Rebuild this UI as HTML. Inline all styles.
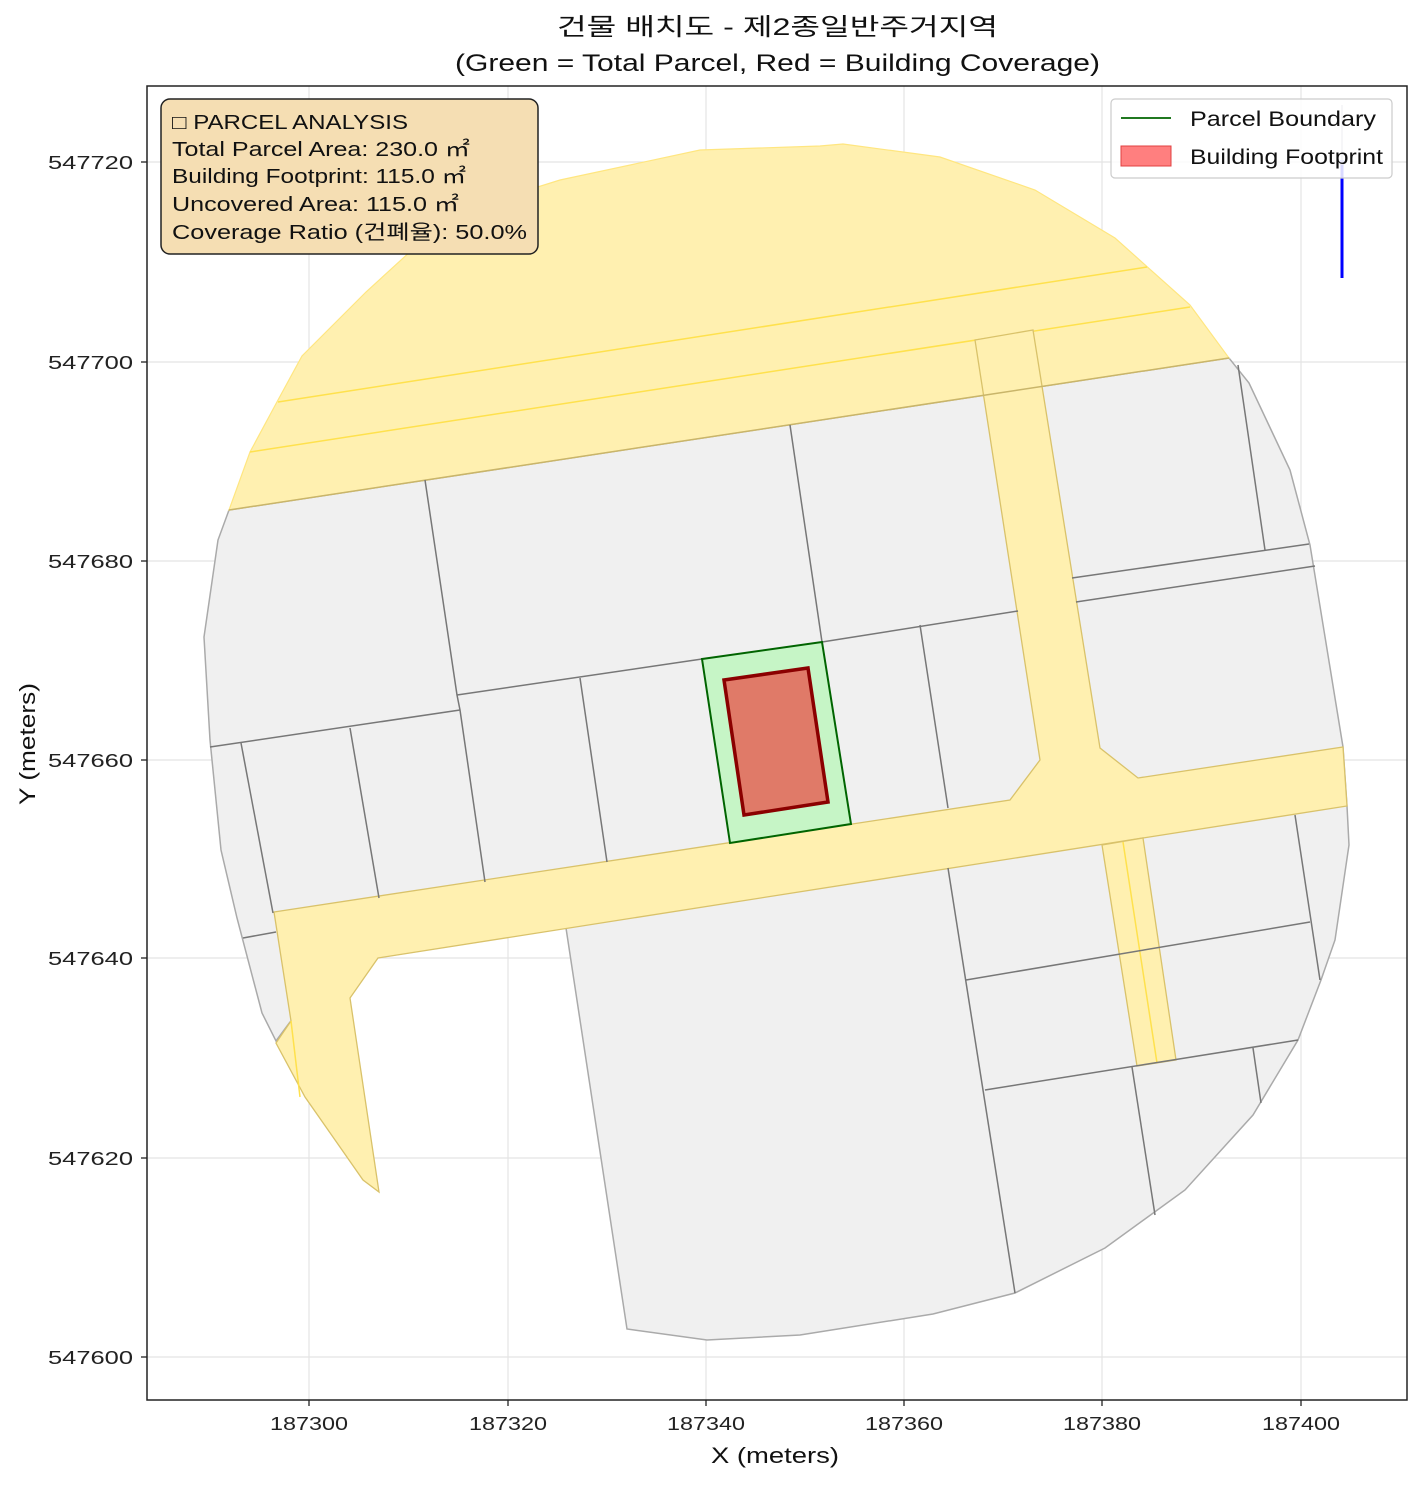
<!DOCTYPE html>
<html><head><meta charset="utf-8"><style>
body{margin:0;background:#fff}
svg text{font-family:"Liberation Sans","Noto Sans CJK KR",sans-serif}
</style></head><body>
<svg width="1420" height="1483" viewBox="0 0 1420 1483" xmlns="http://www.w3.org/2000/svg">
<rect width="1420" height="1483" fill="#fff"/>
<text x="557" y="35" font-size="24" textLength="441" lengthAdjust="spacingAndGlyphs" fill="#111">건물 배치도 - 제2종일반주거지역</text>
<text x="455" y="71" font-size="24" textLength="645" lengthAdjust="spacingAndGlyphs" fill="#111">(Green = Total Parcel, Red = Building Coverage)</text>
<g stroke="#e4e4e4" stroke-width="1.2">
<line x1="309" y1="86" x2="309" y2="1400"/><line x1="508" y1="86" x2="508" y2="1400"/><line x1="706" y1="86" x2="706" y2="1400"/><line x1="904" y1="86" x2="904" y2="1400"/><line x1="1102" y1="86" x2="1102" y2="1400"/><line x1="1301" y1="86" x2="1301" y2="1400"/>
<line x1="147" y1="162" x2="1407" y2="162"/><line x1="147" y1="362" x2="1407" y2="362"/><line x1="147" y1="561" x2="1407" y2="561"/><line x1="147" y1="760" x2="1407" y2="760"/><line x1="147" y1="958" x2="1407" y2="958"/><line x1="147" y1="1158" x2="1407" y2="1158"/><line x1="147" y1="1357" x2="1407" y2="1357"/>
</g>
<polygon points="229,510 1229,358 1249,383 1290,470 1310,545 1343,747 1347,806 1349,845 1335,940 1321,980 1298,1040 1253,1115 1185,1190 1105,1248 1015,1293 933,1314 800,1335 707,1340 627,1329 566,928 375,958 290,1022 276,1041 262,1013 237,918 221,850 210,740 204,637 218,540" fill="#f0f0f0" stroke="#aaa" stroke-width="1.5"/>
<polygon points="229,510 250,452 278,400 302,356 366,292 412,250 480,205 560,180 700,150 820,146 843,144 940,157 1035,190 1115,238 1190,305 1229,358" fill="#fff0b0" stroke="#ffe680" stroke-width="1.2"/>
<g stroke="#ffe14d" stroke-width="1.5" fill="none">
<line x1="278" y1="402" x2="1147" y2="267"/>
<line x1="250" y1="452" x2="1190" y2="307"/>
</g>
<polygon points="274,912 1010,800 1040,760 975,340 1033,330 1100,748 1138,778 1343,747 1347,806 378,958 350,998 379,1192 363,1180 305,1097 276,1043 291,1021" fill="#fff0b0" stroke="#d9c26a" stroke-width="1.3"/>
<polygon points="1102,845 1143,838 1176,1060 1137,1066" fill="#fff0b0" stroke="#d9c26a" stroke-width="1.3"/>
<line x1="1123" y1="842" x2="1157" y2="1063" stroke="#ffe14d" stroke-width="1.5"/>
<line x1="291" y1="1021" x2="300" y2="1097" stroke="#ffe14d" stroke-width="1.5"/>
<line x1="229" y1="510" x2="1229" y2="358" stroke="#c9b56a" stroke-width="1.5"/>
<g stroke="#777" stroke-width="1.5" fill="none">
<polyline points="425,480 457,695 460,710 485,882"/>
<line x1="790" y1="425" x2="822" y2="642"/>
<line x1="210" y1="747" x2="460" y2="710"/>
<line x1="457" y1="695" x2="702" y2="659"/>
<line x1="822" y1="642" x2="1018" y2="611"/>
<line x1="1072" y1="578" x2="1309" y2="544"/>
<line x1="1076" y1="602" x2="1315" y2="566"/>
<line x1="241" y1="743" x2="273" y2="913"/>
<line x1="350" y1="728" x2="379" y2="898"/>
<line x1="580" y1="678" x2="607" y2="862"/>
<line x1="920" y1="625" x2="948" y2="808"/>
<line x1="1238" y1="365" x2="1265" y2="550"/>
<line x1="1295" y1="815" x2="1320" y2="980"/>
<line x1="966" y1="980" x2="1310" y2="922"/>
<line x1="985" y1="1090" x2="1298" y2="1040"/>
<line x1="948" y1="868" x2="1015" y2="1293"/>
<line x1="1132" y1="1067" x2="1155" y2="1215"/>
<line x1="1253" y1="1048" x2="1261" y2="1103"/>
<line x1="243" y1="938" x2="276" y2="932"/>
</g>
<polygon points="702,659 822,642 851,824 730,843" fill="#c6f5c6" stroke="#006400" stroke-width="2"/>
<polygon points="724,680 808,668 828,802 744,815" fill="#e07a68" stroke="#8b0000" stroke-width="3.5"/>
<line x1="1342" y1="160" x2="1342" y2="278" stroke="#0000ff" stroke-width="3"/>
<line x1="1342" y1="105" x2="1342" y2="165" stroke="#aab" stroke-width="1.5"/>
<rect x="147" y="86" width="1260" height="1314" fill="none" stroke="#222" stroke-width="1.5"/>
<g stroke="#222" stroke-width="1.3">
<line x1="309" y1="1400" x2="309" y2="1406"/><line x1="508" y1="1400" x2="508" y2="1406"/><line x1="706" y1="1400" x2="706" y2="1406"/><line x1="904" y1="1400" x2="904" y2="1406"/><line x1="1102" y1="1400" x2="1102" y2="1406"/><line x1="1301" y1="1400" x2="1301" y2="1406"/>
<line x1="141" y1="162" x2="147" y2="162"/><line x1="141" y1="362" x2="147" y2="362"/><line x1="141" y1="561" x2="147" y2="561"/><line x1="141" y1="760" x2="147" y2="760"/><line x1="141" y1="958" x2="147" y2="958"/><line x1="141" y1="1158" x2="147" y2="1158"/><line x1="141" y1="1357" x2="147" y2="1357"/>
</g>
<g font-size="18" fill="#222">
<text x="270" y="1430" textLength="78" lengthAdjust="spacingAndGlyphs">187300</text><text x="469" y="1430" textLength="78" lengthAdjust="spacingAndGlyphs">187320</text><text x="667" y="1430" textLength="78" lengthAdjust="spacingAndGlyphs">187340</text><text x="865" y="1430" textLength="78" lengthAdjust="spacingAndGlyphs">187360</text><text x="1063" y="1430" textLength="78" lengthAdjust="spacingAndGlyphs">187380</text><text x="1262" y="1430" textLength="78" lengthAdjust="spacingAndGlyphs">187400</text>
</g>
<g font-size="18" fill="#222">
<text x="48" y="169" textLength="85" lengthAdjust="spacingAndGlyphs">547720</text><text x="48" y="369" textLength="85" lengthAdjust="spacingAndGlyphs">547700</text><text x="48" y="568" textLength="85" lengthAdjust="spacingAndGlyphs">547680</text><text x="48" y="767" textLength="85" lengthAdjust="spacingAndGlyphs">547660</text><text x="48" y="965" textLength="85" lengthAdjust="spacingAndGlyphs">547640</text><text x="48" y="1165" textLength="85" lengthAdjust="spacingAndGlyphs">547620</text><text x="48" y="1364" textLength="85" lengthAdjust="spacingAndGlyphs">547600</text>
</g>
<text x="711" y="1463" font-size="22" textLength="128" lengthAdjust="spacingAndGlyphs" fill="#111">X (meters)</text>
<text transform="translate(35,805) rotate(-90)" font-size="22" textLength="122" lengthAdjust="spacingAndGlyphs" fill="#111">Y (meters)</text>
<rect x="161" y="99" width="377" height="155" rx="9" fill="#f5deb3" stroke="#222" stroke-width="1.5"/>
<g font-size="20" fill="#111">
<text x="172" y="129" textLength="236" lengthAdjust="spacingAndGlyphs">□ PARCEL ANALYSIS</text>
<text x="172" y="156" textLength="298" lengthAdjust="spacingAndGlyphs">Total Parcel Area: 230.0 ㎡</text>
<text x="172" y="183" textLength="294" lengthAdjust="spacingAndGlyphs">Building Footprint: 115.0 ㎡</text>
<text x="172" y="211" textLength="287" lengthAdjust="spacingAndGlyphs">Uncovered Area: 115.0 ㎡</text>
<text x="172" y="239" textLength="355" lengthAdjust="spacingAndGlyphs">Coverage Ratio (건폐율): 50.0%</text>
</g>
<rect x="1111" y="99" width="281" height="79" rx="4" fill="#fff" fill-opacity="0.85" stroke="#ccc" stroke-width="1.2"/>
<line x1="1121" y1="118" x2="1171" y2="118" stroke="#006400" stroke-width="1.8"/>
<rect x="1121" y="146" width="50" height="20" fill="#ff7f7f" stroke="#e04040" stroke-width="1"/>
<g font-size="21" fill="#111">
<text x="1190" y="126" textLength="186" lengthAdjust="spacingAndGlyphs">Parcel Boundary</text>
<text x="1190" y="164" textLength="193" lengthAdjust="spacingAndGlyphs">Building Footprint</text>
</g>
</svg>
</body></html>
